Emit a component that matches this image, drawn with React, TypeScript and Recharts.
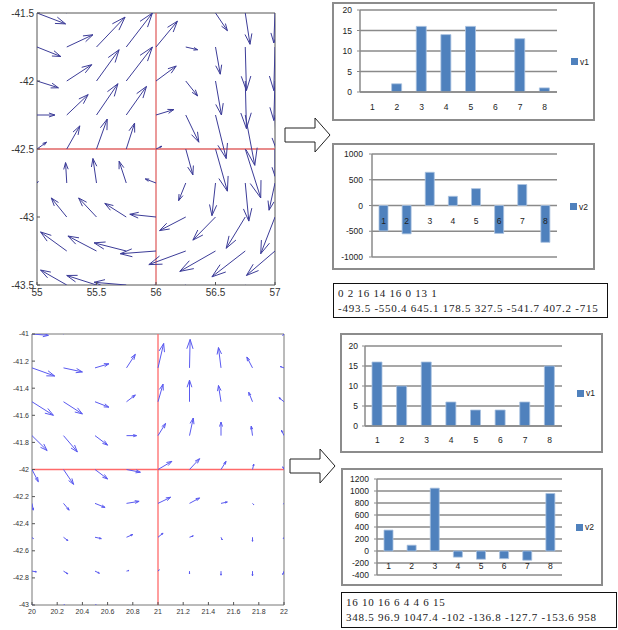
import React from "react";
import {
  ScatterChart,
  BarChart,
  Bar,
  XAxis,
  YAxis,
  CartesianGrid,
  Legend,
  LabelList,
  ReferenceLine,
  ReferenceArea,
} from "recharts";

// ---- bar chart data ----
const categories = ["1", "2", "3", "4", "5", "6", "7", "8"];
const v1Top = [0, 2, 16, 14, 16, 0, 13, 1];
const v2Top = [-493.5, -550.4, 645.1, 178.5, 327.5, -541.7, 407.2, -715];
const v1Bottom = [16, 10, 16, 6, 4, 4, 6, 15];
const v2Bottom = [348.5, 96.9, 1047.4, -102, -136.8, -127.7, -153.6, 958];

const ticksV1 = [0, 5, 10, 15, 20];
const ticksV2Top = [-1000, -500, 0, 500, 1000];
const ticksV2Bottom = [-400, -200, 0, 200, 400, 600, 800, 1000, 1200];

// ---- quiver (top) ----
const qTopX = [55, 55.25, 55.5, 55.75, 56, 56.25, 56.5, 56.75, 57];
const qTopY = [-41.5, -41.75, -42, -42.25, -42.5, -42.75, -43, -43.25, -43.5];
const qTopTicksX = [55, 55.5, 56, 56.5, 57];
const qTopTicksY = [-43.5, -43, -42.5, -42, -41.5];
const qTopU = [
  [0.24, 0.2, 0.22, 0.2, 0.18, 0.03, 0.1, 0.04, -0.01],
  [0.2, 0.22, 0.24, 0.22, 0.18, 0.1, 0.04, 0.01, -0.01],
  [0.18, 0.21, 0.19, 0.22, 0.17, 0.1, 0.05, 0.01, -0.01],
  [0.15, 0.18, 0.18, 0.17, 0.15, 0.11, 0.09, 0.08, 0.01],
  [0.08, 0.11, 0.09, 0.07, 0.05, 0.06, 0.1, 0.13, 0.0],
  [0.01, -0.01, -0.03, -0.06, -0.09, -0.06, -0.03, 0.03, -0.05],
  [-0.01, -0.13, -0.15, -0.18, -0.22, -0.22, -0.19, -0.16, -0.12],
  [-0.01, -0.22, -0.24, -0.27, -0.3, -0.31, -0.3, -0.28, -0.24],
  [-0.01, -0.22, -0.25, -0.27, -0.3, -0.3, -0.3, -0.28, -0.25],
];
const qTopV = [
  [-0.08, 0.15, 0.2, 0.25, 0.2, 0.05, -0.13, -0.23, -0.22],
  [-0.07, 0.09, 0.22, 0.25, 0.19, -0.02, -0.2, -0.32, -0.32],
  [-0.05, 0.12, 0.23, 0.25, 0.11, -0.11, -0.25, -0.35, -0.29],
  [0.0, 0.15, 0.23, 0.21, 0.04, -0.2, -0.32, -0.37, -0.25],
  [0.05, 0.17, 0.22, 0.19, 0.02, -0.19, -0.31, -0.36, -0.2],
  [0.01, 0.15, 0.18, 0.16, 0.03, -0.13, -0.24, -0.28, -0.2],
  [0.01, 0.14, 0.14, 0.1, 0.02, -0.1, -0.17, -0.23, -0.27],
  [0.01, 0.14, 0.11, 0.06, -0.02, -0.1, -0.15, -0.19, -0.18],
  [0.01, 0.11, 0.07, 0.02, -0.05, -0.1, -0.14, -0.17, -0.17],
];

// ---- quiver (bottom) ----
const qBotX = [20, 20.25, 20.5, 20.75, 21, 21.25, 21.5, 21.75, 22];
const qBotY = [-41, -41.25, -41.5, -41.75, -42, -42.25, -42.5, -42.75, -43];
const qBotTicksX = [20, 20.2, 20.4, 20.6, 20.8, 21, 21.2, 21.4, 21.6, 21.8, 22];
const qBotTicksY = [-43, -42.8, -42.6, -42.4, -42.2, -42, -41.8, -41.6, -41.4, -41.2, -41];
const qBotU = [
  [0.13, 0.1, 0.08, 0.05, 0.04, 0.0, -0.02, -0.04, -0.01],
  [0.18, 0.15, 0.11, 0.07, 0.045, 0.005, -0.02, -0.045, -0.03],
  [0.17, 0.15, 0.11, 0.07, 0.04, 0.0, -0.02, -0.03, -0.04],
  [0.12, 0.11, 0.1, 0.08, 0.06, 0.03, 0.0, -0.01, -0.02],
  [0.05, 0.08, 0.1, 0.11, 0.11, 0.08, 0.04, 0.01, -0.01],
  [0.01, 0.045, 0.08, 0.1, 0.1, 0.08, 0.05, 0.01, -0.005],
  [0.01, 0.035, 0.05, 0.05, 0.04, 0.03, 0.01, 0.0, -0.005],
  [0.035, 0.035, 0.035, 0.02, 0.01, 0.0, 0.0, 0.0, -0.01],
  [0.01, 0.01, 0.01, 0.005, 0.005, 0.0, 0.0, 0.0, 0.0],
];
const qBotV = [
  [-0.01, 0.05, 0.1, 0.15, 0.2, 0.2, 0.15, 0.08, -0.01],
  [-0.06, -0.03, 0.03, 0.1, 0.18, 0.21, 0.15, 0.08, 0.01],
  [-0.1, -0.09, -0.04, 0.05, 0.13, 0.16, 0.12, 0.07, 0.03],
  [-0.11, -0.12, -0.07, 0.0, 0.09, 0.13, 0.1, 0.07, 0.04],
  [-0.09, -0.11, -0.07, -0.02, 0.06, 0.08, 0.06, 0.04, 0.02],
  [-0.05, -0.05, -0.03, 0.015, 0.045, 0.04, 0.01, -0.01, -0.005],
  [-0.01, -0.025, -0.01, 0.02, 0.03, 0.01, -0.02, -0.03, -0.01],
  [-0.005, -0.02, -0.015, 0.005, 0.01, -0.02, -0.03, -0.035, -0.025],
  [0.0, 0.0, 0.0, 0.0, 0.0, 0.0, 0.0, -0.005, 0.0],
];

const BAR_BLUE = "#4f81bd";
const GRID = "#8a8a8a";
const XL_FONT = "'Liberation Sans', Arial, sans-serif";

// quiver arrow: shaft + open head (matlab-ish proportions)
function ArrowShape(props: any) {
  const { x1, y1, x2, y2, stroke, clipPath } = props;
  if (![x1, y1, x2, y2].every((v) => typeof v === "number" && isFinite(v))) return <g />;
  const dx = x2 - x1;
  const dy = y2 - y1;
  const len = Math.hypot(dx, dy);
  if (len < 0.8) return <g />;
  const ux = dx / len;
  const uy = dy / len;
  const hl = len * 0.33;
  const hw = len * 0.11;
  const bx = x2 - ux * hl;
  const by = y2 - uy * hl;
  const pts = `${bx - uy * hw},${by + ux * hw} ${x2},${y2} ${bx + uy * hw},${by - ux * hw}`;
  return (
    <g clipPath={clipPath}>
      <line x1={x1} y1={y1} x2={x2} y2={y2} stroke={stroke} strokeWidth={1} />
      <polyline points={pts} fill="none" stroke={stroke} strokeWidth={1} />
    </g>
  );
}

function makeXTick(fontSize: number, margin: number) {
  return (p: any) => (
    <g>
      <line x1={p.x} y1={p.y - margin} x2={p.x} y2={p.y - margin - 3} stroke="#555" />
      <text x={p.x} y={p.y} dy="0.8em" textAnchor="middle" fontSize={fontSize} fill="#333" fontFamily={XL_FONT}>
        {p.payload.value}
      </text>
    </g>
  );
}

function makeYTick(fontSize: number, margin: number) {
  return (p: any) => (
    <g>
      <line x1={p.x + margin} y1={p.y} x2={p.x + margin + 3} y2={p.y} stroke="#555" />
      <text x={p.x} y={p.y} dy="0.35em" textAnchor="end" fontSize={fontSize} fill="#333" fontFamily={XL_FONT}>
        {p.payload.value}
      </text>
    </g>
  );
}

type QuiverProps = {
  xs: number[];
  ys: number[];
  us: number[][];
  vs: number[][];
  ticksX: number[];
  ticksY: number[];
  width: number;
  height: number;
  margin: { top: number; right: number; bottom: number; left: number };
  yWidth: number;
  xHeight: number;
  fontSize: number;
  arrowColor: string;
  redColor: string;
  frameColor: string;
  crossX: number;
  crossY: number;
};

function Quiver(q: QuiverProps) {
  const segs: { key: string; seg: { x: number; y: number }[] }[] = [];
  q.ys.forEach((y, i) =>
    q.xs.forEach((x, j) => {
      segs.push({
        key: `${i}-${j}`,
        seg: [
          { x, y },
          { x: x + q.us[i][j], y: y + q.vs[i][j] },
        ],
      });
    })
  );
  const xd = [q.xs[0], q.xs[q.xs.length - 1]];
  const yd = [q.ys[q.ys.length - 1], q.ys[0]];
  return (
    <ScatterChart width={q.width} height={q.height} margin={q.margin}>
      <XAxis
        type="number"
        dataKey="x"
        domain={xd}
        ticks={q.ticksX}
        allowDataOverflow
        axisLine={false}
        tickLine={false}
        tickSize={0}
        tickMargin={3}
        height={q.xHeight}
        interval={0}
        tick={makeXTick(q.fontSize, 3)}
      />
      <YAxis
        type="number"
        dataKey="y"
        domain={yd}
        ticks={q.ticksY}
        allowDataOverflow
        axisLine={false}
        tickLine={false}
        tickSize={0}
        tickMargin={3}
        width={q.yWidth}
        interval={0}
        tick={makeYTick(q.fontSize, 3)}
      />
      <ReferenceArea x1={xd[0]} x2={xd[1]} y1={yd[0]} y2={yd[1]} fill="#fff" fillOpacity={1} stroke="none" />
      <ReferenceLine x={q.crossX} stroke={q.redColor} strokeWidth={1.3} />
      <ReferenceLine y={q.crossY} stroke={q.redColor} strokeWidth={1.3} />
      {segs.map((s) => (
        <ReferenceLine
          key={s.key}
          segment={s.seg}
          ifOverflow="hidden"
          stroke={q.arrowColor}
          shape={ArrowShape}
        />
      ))}
      <ReferenceArea x1={xd[0]} x2={xd[1]} y1={yd[0]} y2={yd[1]} fill="none" stroke={q.frameColor} strokeWidth={1} />
    </ScatterChart>
  );
}

function legendContent(width: number, pad: number) {
  return (p: any) => {
    const item = (p.payload || [])[0];
    return (
      <div
        style={{
          width,
          paddingLeft: pad,
          boxSizing: "border-box",
          display: "flex",
          alignItems: "center",
          fontFamily: XL_FONT,
          fontSize: 8.5,
          color: "#222",
        }}
      >
        <span style={{ width: 7, height: 7, background: BAR_BLUE, marginRight: 2, display: "inline-block" }} />
        <span>{item ? item.value : ""}</span>
      </div>
    );
  };
}

// category labels that sit on the zero line (Excel "next to axis")
function zeroLabel(offset: number) {
  return (p: any) => {
    const vb = p.viewBox || p;
    const top = Math.min(vb.y, vb.y + vb.height);
    const bottom = Math.max(vb.y, vb.y + vb.height);
    const zero = Number(p.value) >= 0 ? bottom : top;
    return (
      <text
        x={vb.x + vb.width / 2}
        y={zero + offset}
        dy="0.35em"
        textAnchor="middle"
        fontSize={8.5}
        fill="#222"
        fontFamily={XL_FONT}
      >
        {categories[p.index]}
      </text>
    );
  };
}

type ExcelProps = {
  values: number[];
  name: string;
  ticks: number[];
  width: number;
  height: number;
  margin: { top: number; right: number; bottom: number; left: number };
  yWidth: number;
  yMargin: number;
  xHeight: number;
  xMargin: number;
  legendWidth: number;
  legendPad: number;
  barSize: number;
  zeroAxis: boolean;
  zeroOffset?: number;
};

function ExcelBars(e: ExcelProps) {
  const data = categories.map((c, i) => ({ name: c, [e.name]: e.values[i] }));
  const tickStyle = { fontSize: 8.5, fill: "#222", fontFamily: XL_FONT };
  return (
    <BarChart width={e.width} height={e.height} data={data} margin={e.margin} barSize={e.barSize}>
      <CartesianGrid vertical={false} stroke={GRID} strokeWidth={1.5} />
      <XAxis
        dataKey="name"
        hide={e.zeroAxis}
        height={e.xHeight}
        axisLine={{ stroke: GRID, strokeWidth: 1.5 }}
        tickLine={false}
        tickSize={0}
        tickMargin={e.xMargin}
        tick={tickStyle}
        interval={0}
      />
      <YAxis
        domain={[e.ticks[0], e.ticks[e.ticks.length - 1]]}
        ticks={e.ticks}
        interval={0}
        width={e.yWidth}
        axisLine={{ stroke: GRID, strokeWidth: 1.5 }}
        tickLine={{ stroke: GRID }}
        tickSize={3}
        tickMargin={e.yMargin}
        tick={tickStyle}
      />
      <Legend
        layout="vertical"
        align="right"
        verticalAlign="middle"
        content={legendContent(e.legendWidth, e.legendPad)}
      />
      <Bar dataKey={e.name} fill={BAR_BLUE} stroke="#a9c1e0" strokeWidth={0.8} isAnimationActive={false}>
        {e.zeroAxis ? <LabelList dataKey={e.name} content={zeroLabel(e.zeroOffset || 15)} /> : null}
      </Bar>
    </BarChart>
  );
}

function Box({ left, top, width, height, border, children }: any) {
  return (
    <div style={{ position: "absolute", left, top, width, height }}>
      <div
        style={{
          position: "absolute",
          inset: 0,
          border,
          boxSizing: "border-box",
          pointerEvents: "none",
        }}
      />
      <div style={{ position: "absolute", left: 0, top: 0 }}>{children}</div>
    </div>
  );
}

function NumberBox({ left, top, width, height, lines }: any) {
  return (
    <div
      style={{
        position: "absolute",
        left,
        top,
        width,
        height,
        border: "1.5px solid #111",
        boxSizing: "border-box",
        padding: "2px 0 0 4px",
        fontFamily: "'Liberation Serif', 'DejaVu Serif', serif",
        fontSize: 11,
        letterSpacing: 0.75,
        lineHeight: "14.5px",
        color: "#222",
        whiteSpace: "nowrap",
        overflow: "hidden",
      }}
    >
      {lines.map((l: string, i: number) => (
        <div key={i}>{l}</div>
      ))}
    </div>
  );
}

function BlockArrow({ x, y }: { x: number; y: number }) {
  const pts = [
    [0, 0], [30, 0], [30, -10], [45, 7], [30, 24], [30, 14], [0, 14],
  ]
    .map(([a, b]) => `${x + a},${y + b}`)
    .join(" ");
  return <polygon points={pts} fill="#fff" stroke="#222" strokeWidth={1} />;
}

export default function App() {
  return (
    <div
      style={{
        position: "absolute",
        left: 0,
        top: 0,
        width: 618,
        height: 630,
        background: "#fff",
        overflow: "hidden",
      }}
    >
      {/* top quiver */}
      <div style={{ position: "absolute", left: 0, top: 0, width: 292, height: 302, overflow: "hidden" }}>
        <Quiver
          xs={qTopX}
          ys={qTopY}
          us={qTopU}
          vs={qTopV}
          ticksX={qTopTicksX}
          ticksY={qTopTicksY}
          width={292}
          height={302}
          margin={{ top: 13, right: 17, bottom: 0, left: 0 }}
          yWidth={37}
          xHeight={17}
          fontSize={10}
          arrowColor="#3c3c98"
          redColor="#e06464"
          frameColor="#555"
          crossX={56}
          crossY={-42.5}
        />
      </div>

      {/* bottom quiver */}
      <div style={{ position: "absolute", left: 0, top: 320, width: 296, height: 310 }}>
        <Quiver
          xs={qBotX}
          ys={qBotY}
          us={qBotU}
          vs={qBotV}
          ticksX={qBotTicksX}
          ticksY={qBotTicksY}
          width={296}
          height={310}
          margin={{ top: 14, right: 12, bottom: 0, left: 0 }}
          yWidth={32}
          xHeight={25}
          fontSize={7}
          arrowColor="#5a5af0"
          redColor="#ff6a6a"
          frameColor="#777"
          crossX={21}
          crossY={-42}
        />
      </div>

      <svg style={{ position: "absolute", left: 0, top: 0 }} width={618} height={630} pointerEvents="none">
        <BlockArrow x={285} y={128} />
        <BlockArrow x={290} y={459} />
      </svg>

      <Box left={332} top={2} width={263} height={119} border="2px solid #8c8c8c">
        <ExcelBars
          values={v1Top}
          name="v1"
          ticks={ticksV1}
          width={263}
          height={119}
          margin={{ top: 8, right: 0, bottom: 0, left: 2 }}
          yWidth={26}
          yMargin={5}
          xHeight={29}
          xMargin={12}
          legendWidth={38}
          legendPad={14}
          barSize={10}
          zeroAxis={false}
        />
      </Box>

      <Box left={332} top={143} width={263} height={127} border="2px solid #8c8c8c">
        <ExcelBars
          values={v2Top}
          name="v2"
          ticks={ticksV2Top}
          width={263}
          height={127}
          margin={{ top: 11, right: 0, bottom: 13, left: 2 }}
          yWidth={38}
          yMargin={6}
          xHeight={0}
          xMargin={0}
          legendWidth={38}
          legendPad={13}
          barSize={9}
          zeroAxis
          zeroOffset={16}
        />
      </Box>

      <NumberBox left={333} top={283} width={275} height={35} lines={[v1Top.join(" "), v2Top.join(" ")]} />

      <Box left={340} top={333} width={263} height={120} border="2px solid #8c8c8c">
        <ExcelBars
          values={v1Bottom}
          name="v1"
          ticks={ticksV1}
          width={263}
          height={120}
          margin={{ top: 13, right: 0, bottom: 0, left: 2 }}
          yWidth={23}
          yMargin={4}
          xHeight={27}
          xMargin={11}
          legendWidth={41}
          legendPad={15}
          barSize={10}
          zeroAxis={false}
        />
      </Box>

      <Box left={341} top={468} width={262} height={118} border="2px solid #8c8c8c">
        <ExcelBars
          values={v2Bottom}
          name="v2"
          ticks={ticksV2Bottom}
          width={262}
          height={118}
          margin={{ top: 11, right: 0, bottom: 11, left: 2 }}
          yWidth={34}
          yMargin={5}
          xHeight={0}
          xMargin={0}
          legendWidth={41}
          legendPad={14}
          barSize={9}
          zeroAxis
          zeroOffset={15}
        />
      </Box>

      <NumberBox left={341} top={592} width={276} height={36} lines={[v1Bottom.join(" "), v2Bottom.join(" ")]} />
    </div>
  );
}
